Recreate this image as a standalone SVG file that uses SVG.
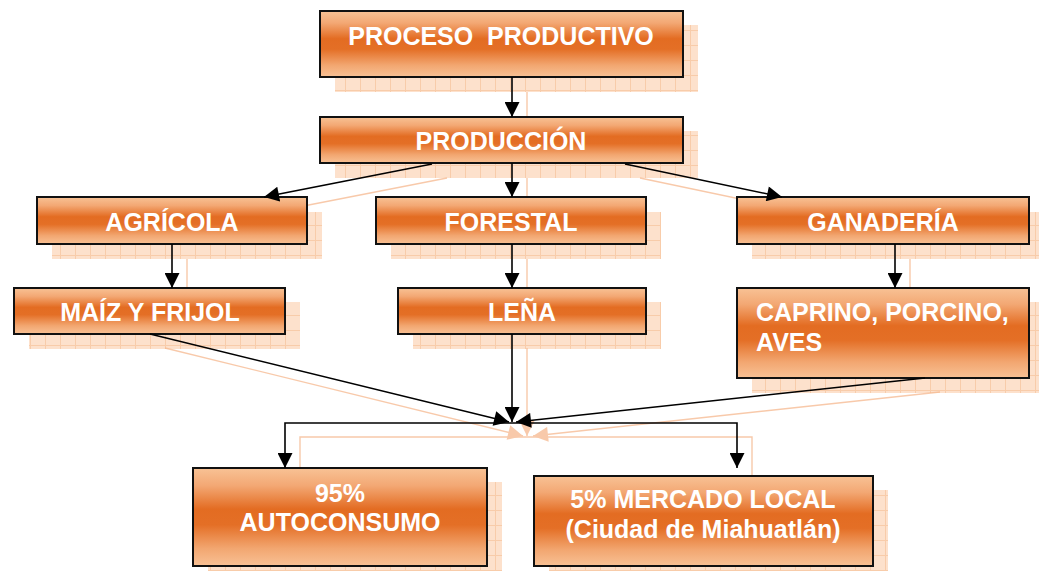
<svg xmlns="http://www.w3.org/2000/svg" width="1039" height="571" viewBox="0 0 1039 571">
<defs>
<linearGradient id="g" x1="0" y1="0" x2="0" y2="1">
<stop offset="0" stop-color="#f8c295"/>
<stop offset="0.18" stop-color="#f3a874"/>
<stop offset="0.42" stop-color="#e36c22"/>
<stop offset="0.58" stop-color="#e46f26"/>
<stop offset="0.82" stop-color="#f2a670"/>
<stop offset="1" stop-color="#f8c195"/>
</linearGradient>
<pattern id="grid" width="15" height="15" patternUnits="userSpaceOnUse">
<rect width="15" height="15" fill="#fde1cc"/>
<path d="M0 0.5H15M0.5 0V15" stroke="#f8ccaa" stroke-width="1"/>
</pattern>
<marker id="ah" viewBox="0 0 10 10" refX="10" refY="5" markerWidth="16" markerHeight="15" markerUnits="userSpaceOnUse" orient="auto">
<path d="M0 0L10 5L0 10z" fill="#000"/>
</marker>
<marker id="ahs" viewBox="0 0 10 10" refX="10" refY="5" markerWidth="16" markerHeight="15" markerUnits="userSpaceOnUse" orient="auto">
<path d="M0 0L10 5L0 10z" fill="#f6b88e"/>
</marker>
</defs>
<style>
.sh{fill:url(#grid)}
.bx{fill:url(#g);stroke:#111;stroke-width:2}
.t{font-family:"Liberation Sans",Arial,sans-serif;font-weight:bold;font-size:25px;fill:#fff;text-anchor:middle}
.tl{text-anchor:start}
.c{fill:none;stroke:#000;stroke-width:1.6;marker-end:url(#ah)}
.cs{fill:none;stroke:#f6b88e;stroke-width:1.4;marker-end:url(#ahs)}
</style>

<g id="shadows">
<rect class="sh" x="335" y="25" width="363" height="67"/>
<rect class="sh" x="335" y="131" width="363" height="47"/>
<rect class="sh" x="52" y="212" width="270" height="47"/>
<rect class="sh" x="391" y="212" width="270" height="47"/>
<rect class="sh" x="752" y="212" width="292" height="47"/>
<rect class="sh" x="29" y="302" width="271" height="47"/>
<rect class="sh" x="413" y="302" width="248" height="47"/>
<rect class="sh" x="752" y="302" width="292" height="91"/>
<rect class="sh" x="208" y="482" width="294" height="98"/>
<rect class="sh" x="549" y="490" width="339" height="90"/>
</g>

<g id="connector-shadows" opacity="0.75">
<path class="cs" d="M527 92V131"/>
<path class="cs" d="M447 178L278 211"/>
<path class="cs" d="M527 178V211"/>
<path class="cs" d="M640 178L797 211"/>
<path class="cs" d="M187 259V302"/>
<path class="cs" d="M527 259V302"/>
<path class="cs" d="M910 259V302"/>
<path class="cs" d="M165 348L523 436"/>
<path class="cs" d="M527 348V436"/>
<path class="cs" d="M940 392L533 436"/>
<path class="cs" d="M527 437H300V482"/>
<path class="cs" d="M527 437H752V490"/>
</g>

<g id="node-proceso">
<rect class="bx" x="320" y="11" width="363" height="66"/>
<text class="t" x="501" y="45" xml:space="preserve">PROCESO  PRODUCTIVO</text>
</g>
<g id="node-produccion">
<rect class="bx" x="320" y="117" width="363" height="46"/>
<text class="t" x="501" y="150">PRODUCCIÓN</text>
</g>
<g id="node-agricola">
<rect class="bx" x="37" y="197" width="270" height="47"/>
<text class="t" x="172" y="231">AGRÍCOLA</text>
</g>
<g id="node-forestal">
<rect class="bx" x="376" y="197" width="270" height="47"/>
<text class="t" x="511" y="231">FORESTAL</text>
</g>
<g id="node-ganaderia">
<rect class="bx" x="737" y="197" width="292" height="47"/>
<text class="t" x="883" y="231">GANADERÍA</text>
</g>
<g id="node-maiz">
<rect class="bx" x="14" y="288" width="271" height="46"/>
<text class="t" x="150" y="321">MAÍZ Y FRIJOL</text>
</g>
<g id="node-lena">
<rect class="bx" x="398" y="288" width="248" height="46"/>
<text class="t" x="522" y="321">LEÑA</text>
</g>
<g id="node-caprino">
<rect class="bx" x="737" y="288" width="292" height="90"/>
<text class="t tl" x="756" y="321">CAPRINO, PORCINO,</text>
<text class="t tl" x="756" y="351">AVES</text>
</g>
<g id="node-autoconsumo">
<rect class="bx" x="193" y="468" width="294" height="98"/>
<text class="t" x="340" y="502">95%</text>
<text class="t" x="340" y="531">AUTOCONSUMO</text>
</g>
<g id="node-mercado">
<rect class="bx" x="534" y="476" width="339" height="90"/>
<text class="t" x="703" y="508">5% MERCADO LOCAL</text>
<text class="t" x="703" y="538">(Ciudad de Miahuatlán)</text>
</g>

<g id="connectors">
<path class="c" d="M512 77V117"/>
<path class="c" d="M432 164L264 197"/>
<path class="c" d="M512 163V197"/>
<path class="c" d="M625 164L782 197"/>
<path class="c" d="M172 244V288"/>
<path class="c" d="M512 244V288"/>
<path class="c" d="M895 244V288"/>
<path class="c" d="M150 334L509 422"/>
<path class="c" d="M512 334V422"/>
<path class="c" d="M925 378L516 422"/>
<path class="c" d="M512 423H285V468"/>
<path class="c" d="M512 423H737V468"/>
</g>
</svg>
